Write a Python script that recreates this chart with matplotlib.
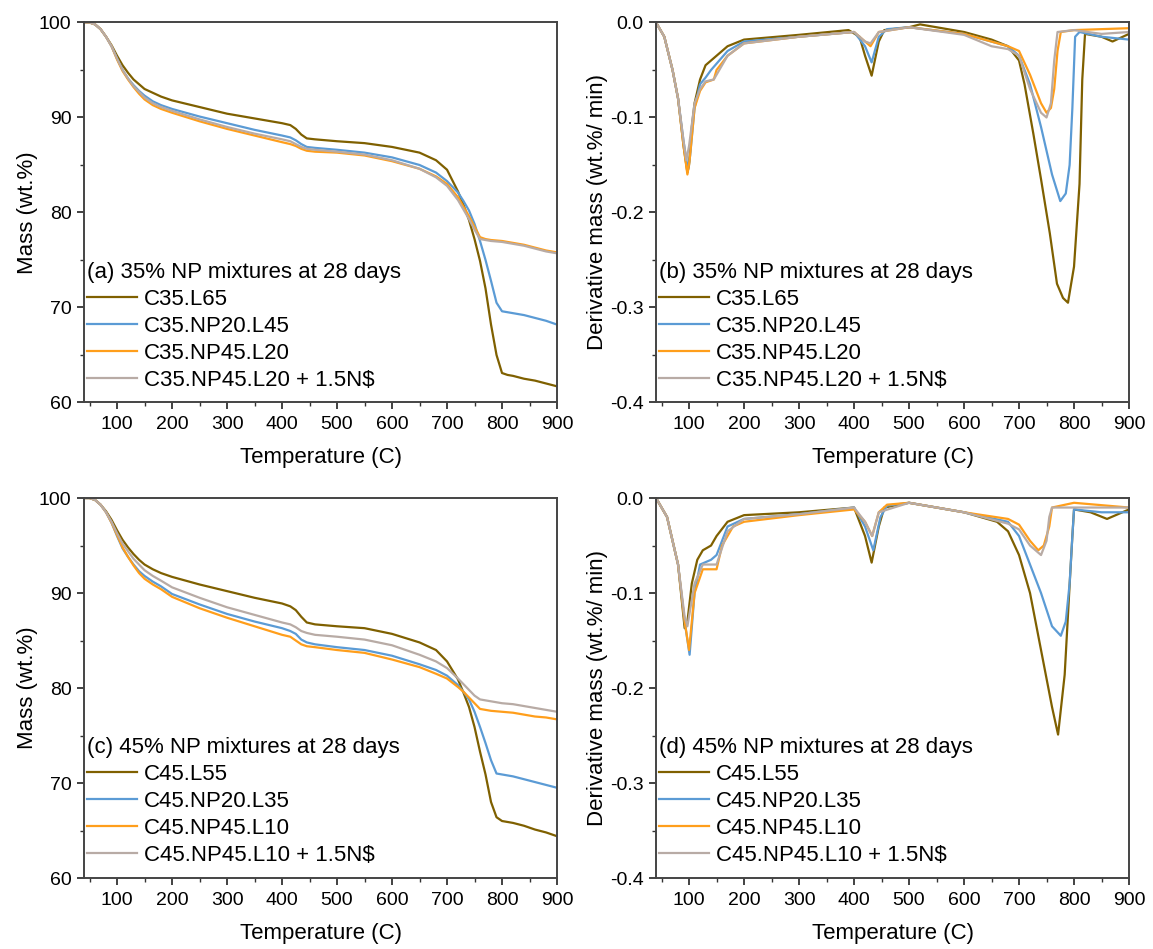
import matplotlib
matplotlib.use('Agg')
import matplotlib.pyplot as plt
from matplotlib.ticker import MultipleLocator, FormatStrFormatter

plt.rcParams['font.family'] = ['Liberation Sans', 'DejaVu Sans']

colors = ['#7F6000', '#5B9BD5', '#FF9E1B', '#B8ABA5']

# ---- TGA temperature grid (C) ----
t_tga = [40, 50, 60, 70, 80, 90, 100, 110, 120, 130, 140, 150, 165, 180, 200, 250, 300, 350,
         400, 415, 425, 435, 445, 460, 500, 550, 600, 650, 680, 700, 720, 730, 740, 750,
         760, 770, 780, 790, 800, 810, 820, 840, 860, 880, 900]

# (a) 35% NP mixtures, mass (wt.%)
labels_a = ['C35.L65', 'C35.NP20.L45', 'C35.NP45.L20', 'C35.NP45.L20 + 1.5N$']
mass_a_c35_l65 = [100, 100, 99.8, 99.3, 98.5, 97.6, 96.5, 95.5, 94.7, 94.0, 93.5, 93.0, 92.6, 92.2,
                  91.8, 91.1, 90.4, 89.9, 89.4, 89.2, 88.8, 88.2, 87.8, 87.7, 87.5, 87.3, 86.9,
                  86.3, 85.5, 84.5, 82.2, 80.8, 79.2, 77.2, 74.9, 72.0, 68.2, 65.0, 63.1, 62.9,
                  62.8, 62.5, 62.3, 62.0, 61.7]
mass_a_np20 = [100, 100, 99.8, 99.3, 98.5, 97.5, 96.2, 95.0, 94.1, 93.4, 92.8, 92.3, 91.7, 91.3,
               90.9, 90.1, 89.4, 88.7, 88.1, 87.9, 87.6, 87.2, 86.9, 86.8, 86.6, 86.3, 85.8,
               85.0, 84.2, 83.3, 82.1, 81.2, 80.2, 78.8, 77.0, 75.0, 72.8, 70.5, 69.6, 69.5,
               69.4, 69.2, 68.9, 68.6, 68.2]
mass_a_np45 = [100, 100, 99.8, 99.3, 98.5, 97.5, 96.1, 94.9, 94.0, 93.2, 92.5, 91.9, 91.3, 90.9,
               90.5, 89.6, 88.8, 88.1, 87.4, 87.2, 87.0, 86.7, 86.5, 86.4, 86.3, 86.0, 85.4,
               84.6, 83.8, 83.0, 81.6, 80.6, 79.6, 78.5, 77.4, 77.2, 77.1, 77.05, 77.0, 76.9,
               76.8, 76.6, 76.3, 76.0, 75.8]
mass_a_np45_ns = [100, 100, 99.8, 99.3, 98.5, 97.5, 96.2, 95.0, 94.1, 93.3, 92.7, 92.1, 91.5, 91.1,
                  90.7, 89.8, 89.0, 88.3, 87.7, 87.5, 87.2, 86.9, 86.7, 86.6, 86.4, 86.1, 85.5,
                  84.6, 83.7, 82.8, 81.3, 80.3, 79.3, 78.2, 77.2, 77.1, 77.0, 76.95, 76.9, 76.8,
                  76.7, 76.5, 76.2, 75.9, 75.7]

# (c) 45% NP mixtures, mass (wt.%)
labels_c = ['C45.L55', 'C45.NP20.L35', 'C45.NP45.L10', 'C45.NP45.L10 + 1.5N$']
mass_c_c45_l55 = [100, 100, 99.8, 99.3, 98.6, 97.7, 96.6, 95.6, 94.8, 94.1, 93.5, 93.0, 92.5, 92.1,
                  91.7, 90.9, 90.2, 89.5, 88.9, 88.6, 88.2, 87.5, 86.9, 86.7, 86.5, 86.3, 85.7,
                  84.8, 84.0, 82.8, 80.9, 79.5, 78.0, 75.9, 73.3, 70.9, 68.0, 66.4, 66.0, 65.9,
                  65.8, 65.5, 65.1, 64.8, 64.4]
mass_c_np20 = [100, 100, 99.8, 99.3, 98.5, 97.4, 96.0, 94.7, 93.8, 93.0, 92.3, 91.8, 91.2, 90.7,
               89.9, 88.8, 87.8, 87.0, 86.3, 86.0, 85.7, 85.1, 84.8, 84.6, 84.3, 84.0, 83.4,
               82.5, 81.9, 81.3, 80.3, 79.6, 78.8, 77.5, 75.9, 74.2, 72.4, 71.0, 70.9, 70.8,
               70.7, 70.4, 70.1, 69.8, 69.5]
mass_c_np45 = [100, 100, 99.8, 99.3, 98.5, 97.4, 96.1, 94.8, 93.8, 92.9, 92.1, 91.5, 90.9, 90.4,
               89.6, 88.4, 87.4, 86.5, 85.6, 85.4, 85.0, 84.6, 84.4, 84.3, 84.0, 83.7, 83.0,
               82.2, 81.5, 81.0, 80.1, 79.6, 79.0, 78.4, 77.8, 77.7, 77.6, 77.55, 77.5, 77.45,
               77.4, 77.2, 77.0, 76.9, 76.7]
mass_c_np45_ns = [100, 100, 99.8, 99.3, 98.5, 97.5, 96.3, 95.2, 94.4, 93.6, 93.0, 92.4, 91.8, 91.3,
                  90.6, 89.5, 88.5, 87.7, 86.9, 86.7, 86.4, 86.0, 85.8, 85.6, 85.4, 85.1, 84.5,
                  83.5, 82.8, 82.1, 81.0, 80.4, 79.8, 79.2, 78.8, 78.7, 78.6, 78.5, 78.4, 78.35,
                  78.3, 78.1, 77.9, 77.7, 77.5]

# (b) DTG, 35% NP mixtures (wt.%/min)
t_b_c35_l65 = [40, 55, 70, 80, 90, 97, 100, 105, 110, 120, 130, 150, 170, 200, 300, 390, 410, 420,
               432, 445, 455, 500, 520, 600, 650, 680, 700, 710, 726, 740, 756, 769, 780, 789,
               800, 810, 815, 820, 850, 870, 900]
dtg_b_c35_l65 = [0, -0.015, -0.05, -0.08, -0.13, -0.158, -0.15, -0.11, -0.085, -0.06, -0.045, -0.035,
                 -0.025, -0.018, -0.013, -0.008, -0.015, -0.035, -0.056, -0.02, -0.008, -0.005,
                 -0.002, -0.01, -0.018, -0.025, -0.04, -0.065, -0.117, -0.165, -0.222, -0.275,
                 -0.29, -0.295, -0.257, -0.17, -0.06, -0.012, -0.015, -0.02, -0.012]
t_b_np20 = [40, 55, 70, 80, 90, 98, 102, 110, 120, 130, 140, 170, 200, 300, 400, 420, 432, 445,
            460, 500, 600, 680, 700, 720, 740, 760, 775, 785, 792, 797, 802, 810, 850, 900]
dtg_b_np20 = [0, -0.015, -0.05, -0.08, -0.125, -0.155, -0.14, -0.09, -0.065, -0.058, -0.05, -0.03,
              -0.02, -0.015, -0.01, -0.025, -0.042, -0.015, -0.007, -0.005, -0.012, -0.025,
              -0.035, -0.065, -0.11, -0.16, -0.188, -0.18, -0.15, -0.09, -0.015, -0.01,
              -0.015, -0.018]
t_b_np45 = [40, 55, 70, 80, 90, 97, 101, 110, 120, 130, 145, 150, 170, 200, 300, 400, 420, 430,
            445, 500, 600, 680, 700, 720, 740, 750, 758, 764, 770, 776, 800, 900]
dtg_b_np45 = [0, -0.015, -0.05, -0.08, -0.13, -0.16, -0.145, -0.09, -0.072, -0.063, -0.06, -0.05,
              -0.035, -0.022, -0.015, -0.01, -0.02, -0.025, -0.01, -0.005, -0.012, -0.025, -0.03,
              -0.055, -0.085, -0.095, -0.09, -0.07, -0.03, -0.01, -0.008, -0.006]
t_b_np45_ns = [40, 55, 70, 80, 90, 95, 100, 110, 120, 130, 145, 170, 200, 300, 400, 420, 430, 445,
               500, 600, 650, 680, 700, 720, 740, 750, 758, 764, 770, 800, 850, 900]
dtg_b_np45_ns = [0, -0.015, -0.05, -0.08, -0.125, -0.145, -0.13, -0.085, -0.07, -0.062, -0.06,
                 -0.035, -0.022, -0.015, -0.01, -0.02, -0.022, -0.01, -0.005, -0.013, -0.025,
                 -0.028, -0.035, -0.07, -0.095, -0.1, -0.085, -0.04, -0.01, -0.008, -0.012, -0.01]

# (d) DTG, 45% NP mixtures (wt.%/min)
t_d_c45_l55 = [40, 60, 80, 92, 97, 100, 105, 115, 125, 140, 150, 170, 200, 300, 400, 420, 432, 445,
               455, 500, 600, 660, 680, 700, 720, 740, 760, 771, 783, 793, 797, 800, 830, 860, 900]
dtg_d_c45_l55 = [0, -0.02, -0.07, -0.137, -0.13, -0.115, -0.09, -0.065, -0.055, -0.05, -0.04,
                 -0.025, -0.018, -0.015, -0.01, -0.04, -0.068, -0.03, -0.01, -0.005, -0.015,
                 -0.025, -0.035, -0.06, -0.1, -0.16, -0.22, -0.249, -0.186, -0.081, -0.04,
                 -0.012, -0.015, -0.022, -0.012]
t_d_np20 = [40, 60, 80, 92, 101, 110, 120, 140, 150, 170, 200, 300, 400, 420, 435, 448, 460, 500,
            600, 680, 700, 720, 740, 760, 776, 785, 792, 797, 800, 850, 900]
dtg_d_np20 = [0, -0.02, -0.07, -0.13, -0.165, -0.1, -0.07, -0.065, -0.06, -0.03, -0.022, -0.017,
              -0.01, -0.03, -0.055, -0.02, -0.008, -0.005, -0.015, -0.025, -0.04, -0.07, -0.1,
              -0.135, -0.145, -0.13, -0.09, -0.04, -0.012, -0.015, -0.015]
t_d_np45 = [40, 60, 80, 92, 100, 110, 125, 150, 160, 180, 200, 300, 400, 420, 433, 445, 460, 500,
            600, 680, 700, 720, 735, 745, 755, 760, 800, 900]
dtg_d_np45 = [0, -0.02, -0.07, -0.13, -0.16, -0.1, -0.075, -0.075, -0.05, -0.03, -0.025, -0.018,
              -0.012, -0.025, -0.04, -0.015, -0.007, -0.005, -0.015, -0.022, -0.028, -0.045,
              -0.055, -0.05, -0.03, -0.01, -0.005, -0.01]
t_d_np45_ns = [40, 60, 80, 92, 97, 110, 125, 150, 170, 200, 300, 400, 420, 433, 445, 500, 600, 680,
               700, 720, 740, 750, 755, 760, 800, 900]
dtg_d_np45_ns = [0, -0.02, -0.07, -0.125, -0.135, -0.09, -0.07, -0.07, -0.035, -0.022, -0.017,
                 -0.01, -0.025, -0.04, -0.015, -0.005, -0.015, -0.027, -0.033, -0.05, -0.06,
                 -0.045, -0.02, -0.01, -0.01, -0.01]


def style_axes(ax, ylim, major, minor, fmt, ylabel):
    ax.set_xlim(40, 900)
    ax.set_ylim(*ylim)
    ax.xaxis.set_major_locator(MultipleLocator(100))
    ax.xaxis.set_minor_locator(MultipleLocator(50))
    ax.yaxis.set_major_locator(MultipleLocator(major))
    ax.yaxis.set_minor_locator(MultipleLocator(minor))
    ax.yaxis.set_major_formatter(FormatStrFormatter(fmt))
    ax.tick_params(which='major', direction='out', length=5, width=1.3, labelsize=14, pad=4,
                   color='#333333')
    ax.tick_params(axis='x', which='major', pad=5)
    ax.tick_params(which='minor', direction='out', length=3, width=1.0, color='#333333')
    for s in ax.spines.values():
        s.set_linewidth(1.4)
        s.set_color('#444444')
    ax.set_xlabel('Temperature (C)', fontsize=16, labelpad=10)
    ax.set_ylabel(ylabel, fontsize=16, labelpad=1)


def add_legend(ax, title):
    ax.legend(loc='lower left', bbox_to_anchor=(0.006, 0.031), borderaxespad=0, borderpad=0,
              handlelength=2.25, handletextpad=0.3, labelspacing=0.27, frameon=False,
              fontsize=16, title=title, title_fontsize=16, alignment='left')


fig = plt.figure(figsize=(11.53, 9.49), dpi=100)
ax_a = fig.add_axes([0.0729, 0.5759, 0.4102, 0.4004])
ax_b = fig.add_axes([0.5690, 0.5759, 0.4102, 0.4004])
ax_c = fig.add_axes([0.0729, 0.0748, 0.4102, 0.4004])
ax_d = fig.add_axes([0.5690, 0.0748, 0.4102, 0.4004])

# (a)
for m, lab, col in zip([mass_a_c35_l65, mass_a_np20, mass_a_np45, mass_a_np45_ns], labels_a, colors):
    ax_a.plot(t_tga, m, color=col, lw=1.6, label=lab)
style_axes(ax_a, (60, 100), 10, 5, '%d', 'Mass (wt.%)')
add_legend(ax_a, '(a) 35% NP mixtures at 28 days')

# (b)
dtg_b = [(t_b_c35_l65, dtg_b_c35_l65), (t_b_np20, dtg_b_np20), (t_b_np45, dtg_b_np45),
         (t_b_np45_ns, dtg_b_np45_ns)]
for (t, d), lab, col in zip(dtg_b, labels_a, colors):
    ax_b.plot(t, d, color=col, lw=1.6, label=lab)
style_axes(ax_b, (-0.4, 0.0), 0.1, 0.05, '%.1f', 'Derivative mass (wt.%/ min)')
add_legend(ax_b, '(b) 35% NP mixtures at 28 days')

# (c)
for m, lab, col in zip([mass_c_c45_l55, mass_c_np20, mass_c_np45, mass_c_np45_ns], labels_c, colors):
    ax_c.plot(t_tga, m, color=col, lw=1.6, label=lab)
style_axes(ax_c, (60, 100), 10, 5, '%d', 'Mass (wt.%)')
add_legend(ax_c, '(c) 45% NP mixtures at 28 days')

# (d)
dtg_d = [(t_d_c45_l55, dtg_d_c45_l55), (t_d_np20, dtg_d_np20), (t_d_np45, dtg_d_np45),
         (t_d_np45_ns, dtg_d_np45_ns)]
for (t, d), lab, col in zip(dtg_d, labels_c, colors):
    ax_d.plot(t, d, color=col, lw=1.6, label=lab)
style_axes(ax_d, (-0.4, 0.0), 0.1, 0.05, '%.1f', 'Derivative mass (wt.%/ min)')
add_legend(ax_d, '(d) 45% NP mixtures at 28 days')

fig.savefig('out.png', dpi=100)
